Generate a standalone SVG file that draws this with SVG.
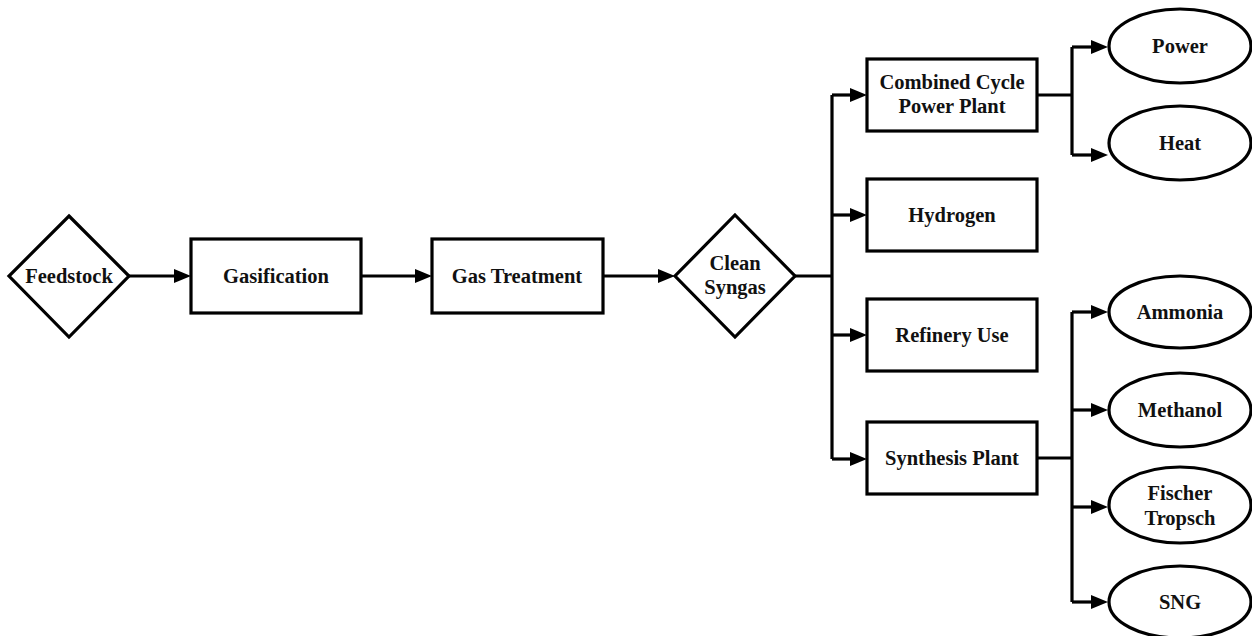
<svg xmlns="http://www.w3.org/2000/svg" width="1252" height="636" viewBox="0 0 1252 636">
<style>
.s{fill:#fff;stroke:#000;stroke-width:3.2;stroke-linejoin:miter}
.t{font-family:"Liberation Serif","Times New Roman",serif;font-weight:bold;font-size:20.5px;fill:#111;text-anchor:middle}
.c{fill:none;stroke:#000;stroke-width:3.2}
</style>
<defs>
<marker id="a" markerUnits="userSpaceOnUse" viewBox="0 0 17 14" refX="8" refY="7" markerWidth="17" markerHeight="14" orient="auto">
<path d="M0,0 L17,7 L0,14 z" fill="#000"/>
</marker>
</defs>
<rect width="1252" height="636" fill="#fff"/>
<g id="connectors">
<path class="c" d="M129,276 H182" marker-end="url(#a)"/>
<path class="c" d="M361,276 H423" marker-end="url(#a)"/>
<path class="c" d="M603,276 H666" marker-end="url(#a)"/>
<path class="c" d="M795,276 H832"/>
<path class="c" d="M832,95 V459"/>
<path class="c" d="M832,95 H858" marker-end="url(#a)"/>
<path class="c" d="M832,215 H858" marker-end="url(#a)"/>
<path class="c" d="M832,335 H858" marker-end="url(#a)"/>
<path class="c" d="M832,459 H858" marker-end="url(#a)"/>
<path class="c" d="M1037,95 H1072"/>
<path class="c" d="M1072,47 V155"/>
<path class="c" d="M1072,47 H1099" marker-end="url(#a)"/>
<path class="c" d="M1072,155 H1099" marker-end="url(#a)"/>
<path class="c" d="M1037,458 H1072"/>
<path class="c" d="M1072,312 V602"/>
<path class="c" d="M1072,312 H1099" marker-end="url(#a)"/>
<path class="c" d="M1072,410 H1099" marker-end="url(#a)"/>
<path class="c" d="M1072,507 H1099" marker-end="url(#a)"/>
<path class="c" d="M1072,602 H1099" marker-end="url(#a)"/>
</g>
<g id="feedstock"><polygon class="s" points="69,216 129,276 69,337 9,276"/><text class="t" x="69" y="283">Feedstock</text></g>
<g id="gasification"><rect class="s" x="191" y="239" width="170" height="74"/><text class="t" x="276" y="283">Gasification</text></g>
<g id="gas-treatment"><rect class="s" x="432" y="239" width="171" height="74"/><text class="t" x="517" y="283">Gas Treatment</text></g>
<g id="clean-syngas"><polygon class="s" points="735,215 795,276 735,337 675,276"/><text class="t" x="735" y="270">Clean</text><text class="t" x="735" y="294">Syngas</text></g>
<g id="ccpp"><rect class="s" x="867" y="59" width="170" height="72"/><text class="t" x="952" y="89">Combined Cycle</text><text class="t" x="952" y="113">Power Plant</text></g>
<g id="hydrogen"><rect class="s" x="867" y="179" width="170" height="72"/><text class="t" x="952" y="222">Hydrogen</text></g>
<g id="refinery"><rect class="s" x="867" y="299" width="170" height="72"/><text class="t" x="952" y="342">Refinery Use</text></g>
<g id="synthesis"><rect class="s" x="867" y="422" width="170" height="72"/><text class="t" x="952" y="465">Synthesis Plant</text></g>
<g id="power"><ellipse class="s" cx="1180" cy="46" rx="71" ry="37"/><text class="t" x="1180" y="53">Power</text></g>
<g id="heat"><ellipse class="s" cx="1180" cy="143" rx="71" ry="37"/><text class="t" x="1180" y="150">Heat</text></g>
<g id="ammonia"><ellipse class="s" cx="1180" cy="312" rx="71" ry="36"/><text class="t" x="1180" y="319">Ammonia</text></g>
<g id="methanol"><ellipse class="s" cx="1180" cy="410" rx="71" ry="37"/><text class="t" x="1180" y="417">Methanol</text></g>
<g id="fischer"><ellipse class="s" cx="1180" cy="505" rx="71" ry="38"/><text class="t" x="1180" y="500">Fischer</text><text class="t" x="1180" y="525">Tropsch</text></g>
<g id="sng"><ellipse class="s" cx="1180" cy="602" rx="71" ry="36"/><text class="t" x="1180" y="609">SNG</text></g>
</svg>
